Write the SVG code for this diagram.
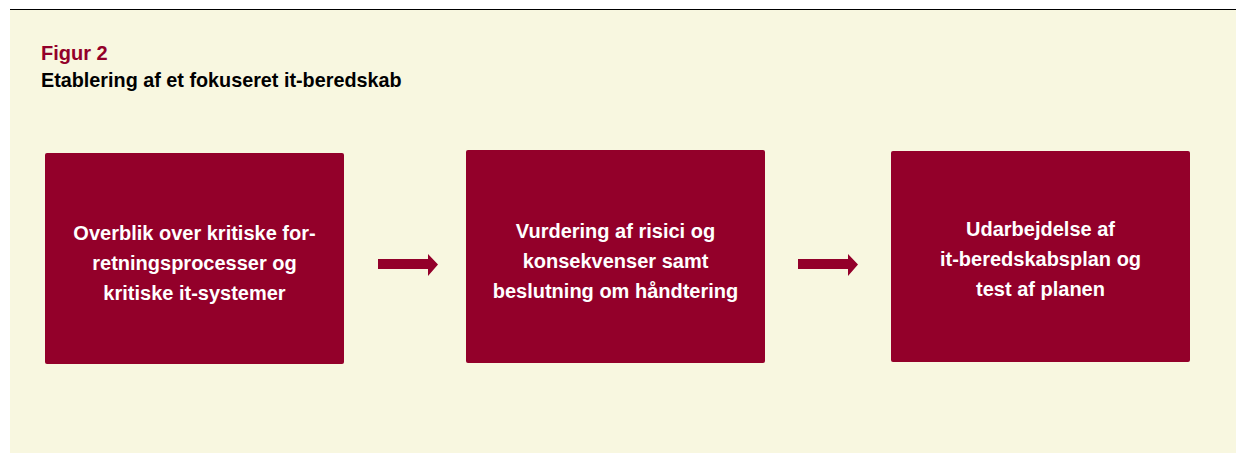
<svg xmlns="http://www.w3.org/2000/svg" width="1236" height="454" viewBox="0 0 1236 454">
<style>
.bg{fill:#f8f7e0}
.box{fill:#93002a}
.bt{font-family:"Liberation Sans",Arial,sans-serif;font-weight:bold;font-size:20px;fill:#ffffff;text-anchor:middle}
.arrow{fill:#93002a}
</style>
<rect x="0" y="0" width="1236" height="454" fill="#ffffff"/>
<rect class="bg" x="10" y="9" width="1226" height="444"/>
<line x1="10" y1="9.5" x2="1236" y2="9.5" stroke="#000" stroke-width="1.2"/>
<g id="title">
<text x="41" y="60" font-family="'Liberation Sans',Arial,sans-serif" font-weight="bold" font-size="20" fill="#93002a">Figur 2</text>
<text x="41" y="87" font-family="'Liberation Sans',Arial,sans-serif" font-weight="bold" font-size="19.8" fill="#000">Etablering af et fokuseret it-beredskab</text>
</g>
<g id="node1">
<rect class="box" x="45" y="153" width="299" height="211" rx="2"/>
<text class="bt" x="194.5" y="240">Overblik over kritiske for-</text>
<text class="bt" x="194.5" y="270">retningsprocesser og</text>
<text class="bt" x="194.5" y="300">kritiske it-systemer</text>
</g>
<g id="node2">
<rect class="box" x="466" y="150" width="299" height="213" rx="2"/>
<text class="bt" x="615.5" y="238">Vurdering af risici og</text>
<text class="bt" x="615.5" y="268">konsekvenser samt</text>
<text class="bt" x="615.5" y="298">beslutning om håndtering</text>
</g>
<g id="node3">
<rect class="box" x="891" y="151" width="299" height="211" rx="2"/>
<text class="bt" x="1040.5" y="236">Udarbejdelse af</text>
<text class="bt" x="1040.5" y="266">it-beredskabsplan og</text>
<text class="bt" x="1040.5" y="296">test af planen</text>
</g>
<g id="connectors">
<polygon class="arrow" points="378,259 428,259 428,254 438,264.5 428,276 428,269 378,269"/>
<polygon class="arrow" points="798,259 848,259 848,254 858,264.5 848,276 848,269 798,269"/>
</g>
</svg>
